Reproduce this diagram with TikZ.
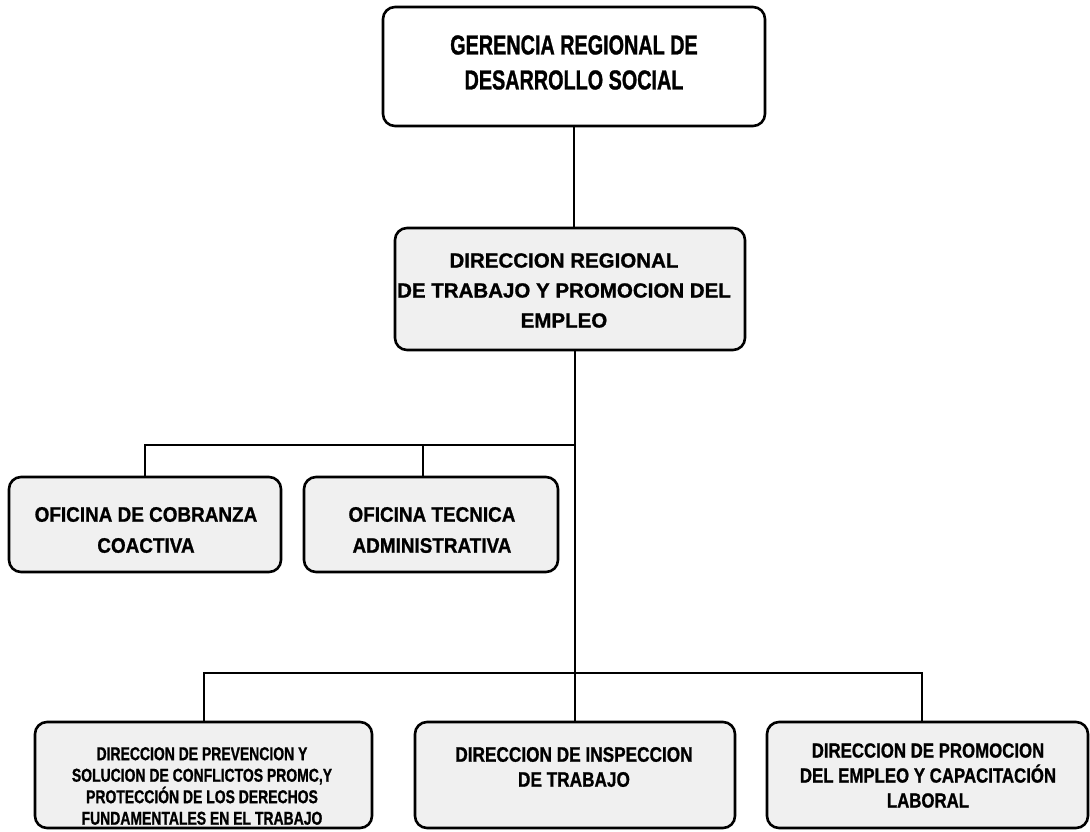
\documentclass[tikz,border=0pt]{standalone}
\usepackage{fontspec}
\setmainfont{Liberation Sans}[FakeBold=1]
\newfontfamily\narrowfont{Liberation Sans}[FakeStretch=0.72,FakeBold=1]
\newfontfamily\midfont{Liberation Sans}[FakeStretch=0.9,FakeBold=1]
\newfontfamily\slimfont{Liberation Sans}[FakeStretch=0.82,FakeBold=1]
\newfontfamily\tightfont{Liberation Sans}[FakeStretch=0.75,FakeBold=1]

\begin{document}
\begin{tikzpicture}[x=1pt,y=-1pt,
    unit/.style={draw,rounded corners=12pt,line width=2.6pt,fill=black!6},
    txt/.style={inner sep=0pt,align=center},
    link/.style={line width=2pt}]

  \useasboundingbox (0,0) rectangle (1090,831);

  % boxes
  \node [unit,fill=white,minimum width=382pt,minimum height=119pt] (gerencia) at (574,66.5) {};
  \node [unit,minimum width=350pt,minimum height=122pt] (dreg) at (570,289) {};
  \node [unit,minimum width=272pt,minimum height=95pt] (cobr) at (145,524.5) {};
  \node [unit,minimum width=254pt,minimum height=95pt] (tec) at (431,524.5) {};
  \node [unit,minimum width=337pt,minimum height=106pt] (prev) at (203.5,775) {};
  \node [unit,minimum width=320pt,minimum height=106pt] (insp) at (575,775) {};
  \node [unit,minimum width=321pt,minimum height=106pt] (prom) at (927.5,775) {};

  % texts
  \node [txt,font=\narrowfont\bfseries\fontsize{27.5}{35}\selectfont] (gerencia_t) at (574,62.5)
    {GERENCIA REGIONAL DE\\DESARROLLO SOCIAL};
  \node [txt,font=\bfseries\fontsize{20.5}{30}\selectfont] (dreg_t) at (564,290.5)
    {DIRECCION REGIONAL\\DE TRABAJO Y PROMOCION DEL\\EMPLEO};
  \node [txt,font=\midfont\bfseries\fontsize{21}{31}\selectfont] (cobr_t) at (146,530)
    {OFICINA DE COBRANZA\\COACTIVA};
  \node [txt,font=\midfont\bfseries\fontsize{21}{31}\selectfont] (tec_t) at (432,530)
    {OFICINA TECNICA\\ADMINISTRATIVA};
  \node [txt,font=\tightfont\bfseries\fontsize{18.6}{21.5}\selectfont] (prev_t) at (202,786)
    {DIRECCION DE PREVENCION Y\\SOLUCION DE CONFLICTOS PROMC,Y\\PROTECCIÓN DE LOS DERECHOS\\FUNDAMENTALES EN EL TRABAJO};
  \node [txt,font=\slimfont\bfseries\fontsize{21}{25}\selectfont] (insp_t) at (574,767)
    {DIRECCION DE INSPECCION\\DE TRABAJO};
  \node [txt,font=\slimfont\bfseries\fontsize{20.5}{25}\selectfont] (prom_t) at (928,775.5)
    {DIRECCION DE PROMOCION\\DEL EMPLEO Y CAPACITACIÓN\\LABORAL};

  % connectors
  \coordinate (fork1) at (575,445);
  \coordinate (fork2) at (575,673);

  \draw [link] (gerencia.south) -- (gerencia.south |- dreg.north);
  \draw [link] (insp.north) -- (insp.north |- dreg.south);
  \draw [link] (cobr.north) -- (cobr.north |- fork1) -- (fork1);
  \draw [link] ([xshift=-8pt]tec.north) -- ([xshift=-8pt]tec.north |- fork1);
  \draw [link] (prev.north) -- (prev.north |- fork2) -- ([xshift=-6pt]fork2 -| prom.north)
    -- ([xshift=-6pt]prom.north);

\end{tikzpicture}
\end{document}
